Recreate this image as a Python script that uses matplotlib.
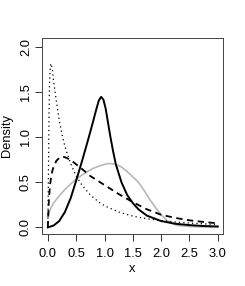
import matplotlib
matplotlib.use("Agg")
import matplotlib.pyplot as plt

plt.rcParams['font.family'] = ['Liberation Sans', 'DejaVu Sans']

# values
solid_x = [0.0, 0.1, 0.2, 0.3, 0.4, 0.5, 0.6, 0.7, 0.8, 0.85, 0.9, 0.94, 0.98,
           1.02, 1.06, 1.1, 1.15, 1.2, 1.3, 1.4, 1.5, 1.6, 1.75, 2.0, 2.25,
           2.5, 2.75, 3.0]
solid_y = [0.0, 0.02, 0.07, 0.17, 0.32, 0.52, 0.73, 0.95, 1.18, 1.30, 1.41,
           1.45, 1.42, 1.32, 1.17, 1.02, 0.85, 0.70, 0.50, 0.36, 0.27, 0.20,
           0.13, 0.07, 0.04, 0.025, 0.015, 0.01]

dashed_x = [0.0, 0.01, 0.02, 0.04, 0.06, 0.08, 0.1, 0.15, 0.2, 0.25, 0.3, 0.4,
            0.5, 0.6, 0.75, 1.0, 1.25, 1.5, 1.75, 2.0, 2.25, 2.5, 2.75, 3.0]
dashed_y = [0.0, 0.2, 0.33, 0.48, 0.57, 0.63, 0.67, 0.74, 0.77, 0.785, 0.78,
            0.75, 0.70, 0.65, 0.57, 0.47, 0.37, 0.28, 0.20, 0.14, 0.105,
            0.078, 0.06, 0.045]

dotted_x = [0.0, 0.01, 0.02, 0.03, 0.045, 0.06, 0.08, 0.1, 0.15, 0.2, 0.25,
            0.3, 0.4, 0.5, 0.6, 0.75, 0.9, 1.0, 1.25, 1.5, 1.75, 2.0, 2.25,
            2.5, 2.75, 3.0]
dotted_y = [0.0, 0.6, 1.25, 1.62, 1.80, 1.82, 1.75, 1.63, 1.40, 1.19, 1.03,
            0.90, 0.71, 0.57, 0.47, 0.36, 0.28, 0.24, 0.17, 0.125, 0.095,
            0.075, 0.06, 0.048, 0.039, 0.032]

gray_x = [0.0, 0.02, 0.05, 0.1, 0.2, 0.3, 0.4, 0.5, 0.6, 0.7, 0.8, 0.9, 1.0,
          1.1, 1.2, 1.3, 1.4, 1.5, 1.6, 1.7, 1.8, 1.9, 2.0, 2.1, 2.2, 2.3,
          2.5, 2.75, 3.0]
gray_y = [0.12, 0.16, 0.21, 0.27, 0.35, 0.42, 0.48, 0.535, 0.58, 0.62, 0.655,
          0.68, 0.70, 0.71, 0.70, 0.67, 0.62, 0.56, 0.50, 0.41, 0.31, 0.22,
          0.14, 0.08, 0.04, 0.02, 0.01, 0.004, 0.001]

x_ticks = [0.0, 0.5, 1.0, 1.5, 2.0, 2.5, 3.0]
y_ticks = [0.0, 0.5, 1.0, 1.5, 2.0]

fig = plt.figure(figsize=(2.45, 2.86), dpi=100)
ax = fig.add_axes([0.170, 0.183, 0.742, 0.683])

ax.plot(gray_x, gray_y, color='#b8b8b8', lw=1.2)
ax.plot(dotted_x, dotted_y, color='black', lw=0.9, dashes=(1, 2.5))
ax.plot(dashed_x, dashed_y, color='black', lw=1.3, dashes=(3.5, 2.5))
ax.plot(solid_x, solid_y, color='black', lw=1.4)

ax.set_xlim(-0.11, 3.10)
ax.set_ylim(-0.07, 2.10)
ax.set_xticks(x_ticks)
ax.set_yticks(y_ticks)
ax.set_xticklabels([f"{v:.1f}" for v in x_ticks])
ax.set_yticklabels([f"{v:.1f}" for v in y_ticks], rotation=90, va='center')
ax.tick_params(direction='out', length=5, width=0.7, labelsize=9.3,
               color='#333333')
ax.tick_params(axis='x', pad=5)
ax.tick_params(axis='y', pad=2)
for s in ax.spines.values():
    s.set_linewidth(0.7)
    s.set_color('#444444')

ax.set_xlabel("x", fontsize=9.3)
ax.set_ylabel("Density", fontsize=9.3)
ax.xaxis.set_label_coords(0.5, -0.152)
ax.yaxis.set_label_coords(-0.160, 0.5)

fig.savefig("out.png", dpi=100)
